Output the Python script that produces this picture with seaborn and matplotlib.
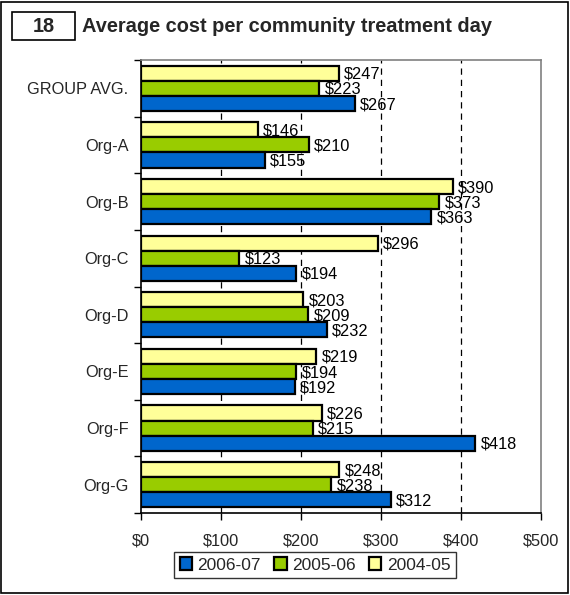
import matplotlib
matplotlib.use("Agg")
import matplotlib.pyplot as plt
from matplotlib.patches import Rectangle, Patch
import seaborn as sns
import pandas as pd

# Categories and yearly values (dollars per community treatment day)
categories = ["GROUP AVG.", "Org-A", "Org-B", "Org-C", "Org-D", "Org-E", "Org-F", "Org-G"]
cost_2006_07 = [267, 155, 363, 194, 232, 192, 418, 312]
cost_2005_06 = [223, 210, 373, 123, 209, 194, 215, 238]
cost_2004_05 = [247, 146, 390, 296, 203, 219, 226, 248]
years = ["2004-05", "2005-06", "2006-07"]
x_ticks = [0, 100, 200, 300, 400, 500]
x_tick_labels = ["$0", "$100", "$200", "$300", "$400", "$500"]

colors = {"2006-07": "#0066CC", "2005-06": "#99CC00", "2004-05": "#FFFF99"}

rows = []
for yr, vals in zip(years, [cost_2004_05, cost_2005_06, cost_2006_07]):
    for cat, v in zip(categories, vals):
        rows.append({"category": cat, "year": yr, "cost": v})
df = pd.DataFrame(rows)

sns.set_style("white")
plt.rcParams["font.family"] = ["Liberation Sans", "DejaVu Sans"]

fig = plt.figure(figsize=(5.7, 5.95), dpi=100)
ax = fig.add_axes([141 / 570, 1 - 513 / 595, 400 / 570, 453 / 595])

sns.barplot(data=df, y="category", x="cost", hue="year", order=categories,
            hue_order=years, palette=colors, orient="h", edgecolor="black",
            linewidth=1.6, saturation=1, ax=ax, legend=False, zorder=3)

# Value labels to the right of each bar
for container in ax.containers:
    for bar in container:
        w = bar.get_width()
        ax.text(w + 6.5, bar.get_y() + bar.get_height() / 2 + 0.02, f"${w:.0f}",
                va="center", ha="left", fontsize=11.8, color="black", zorder=4)

ax.set_xlim(0, 500)
ax.set_ylim(7.5, -0.5)
ax.set_xticks(x_ticks)
ax.set_xticklabels(x_tick_labels, fontsize=11.8)
ax.set_xlabel("")
ax.set_ylabel("")
ax.tick_params(axis="y", which="major", length=0, pad=9, labelsize=11.8)
ax.set_yticks([i + 0.5 for i in range(-1, 8)], minor=True)
ax.tick_params(axis="y", which="minor", length=5, width=1, color="black", direction="out", left=True)
ax.tick_params(axis="x", which="major", length=5, width=1, color="black", direction="out", bottom=True, pad=10)

# Dashed vertical gridlines behind bars
for xv in [100, 200, 300, 400]:
    ax.axvline(xv, color="black", linestyle=(0, (5, 4)), linewidth=0.9, zorder=1)

for side in ["top", "right"]:
    ax.spines[side].set_color("#808080")
    ax.spines[side].set_linewidth(1.2)
for side in ["left", "bottom"]:
    ax.spines[side].set_color("black")
    ax.spines[side].set_linewidth(1.2)

# Legend in reverse year order
handles = [Patch(facecolor=colors[y], edgecolor="black", linewidth=1.6) for y in ["2006-07", "2005-06", "2004-05"]]
fig.legend(handles, ["2006-07", "2005-06", "2004-05"], loc="center",
           bbox_to_anchor=(315 / 570, 1 - 565 / 595), ncol=3, fontsize=12.5,
           frameon=True, fancybox=False, edgecolor="black", handlelength=0.7,
           handleheight=0.7, handletextpad=0.3, columnspacing=0.8,
           borderpad=0.3, borderaxespad=0)
leg = fig.legends[0]
leg.get_frame().set_linewidth(1.0)

# Outer frame and title box
fig.add_artist(Rectangle((1 / 570, 2 / 595), 567 / 570, 591 / 595, transform=fig.transFigure,
                         fill=False, edgecolor="black", linewidth=1.2))
fig.add_artist(Rectangle((12 / 570, 1 - 40 / 595), 63 / 570, 28 / 595, transform=fig.transFigure,
                         fill=False, edgecolor="black", linewidth=1.2))
fig.text(43.5 / 570, 1 - 26.5 / 595, "18", ha="center", va="center", fontsize=14.4, fontweight="bold")
fig.text(82 / 570, 1 - 26.5 / 595, "Average cost per community treatment day", ha="left",
         va="center", fontsize=14.4, fontweight="bold")

fig.savefig("out.png", dpi=100)
